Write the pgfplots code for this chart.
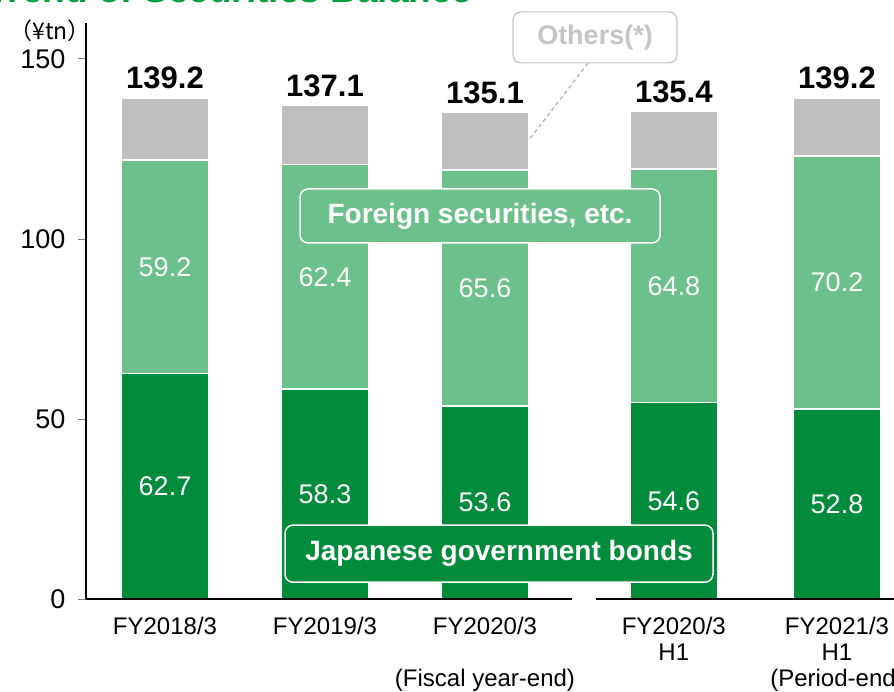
\documentclass[border=0pt]{standalone}
\usepackage{pgfplots}
\pgfplotsset{compat=1.18}
\usepackage{pgfplotstable}
\usepackage{fontspec}
\setmainfont{Liberation Sans}
\newfontfamily\cjk{Noto Sans CJK JP}
\definecolor{jgb}{HTML}{008C3A}
\definecolor{fgn}{HTML}{6CC089}
\definecolor{oth}{HTML}{BFBFBF}
\definecolor{othtext}{HTML}{C4C4C4}
\definecolor{titlegreen}{HTML}{00A040}
\pgfplotstableread{
x    jgb  fgn  oth  tot
0    62.7 59.2 17.3 139.2
1    58.3 62.4 16.4 137.1
2    53.6 65.6 15.9 135.1
3.18 54.6 64.8 16.0 135.4
4.2  52.8 70.2 16.2 139.2
}\data
\begin{document}
\begin{tikzpicture}
\node[anchor=base west, text=titlegreen, font=\bfseries\fontsize{37}{40}\selectfont, inner sep=0pt] at (-13pt,-3pt) {Trend of Securities Balance};
\node[font=\fontsize{23}{26}\selectfont, inner sep=0pt] at (50pt,-31pt) {\cjk{（}¥tn\cjk{）}};
\begin{axis}[
  at={(86pt,-599pt)}, anchor=south west,
  scale only axis, width=814pt, height=576pt,
  xmin=-0.49375, xmax=4.59375, ymin=0, ymax=160,
  ybar stacked, bar width=88pt,
  axis lines=left, axis line style={-, line width=1.2pt},
  x axis line style={draw=none},
  ytick={0,50,100,150},
  xtick={0,1,2,3.18,4.2},
  xticklabels={FY2018/3, FY2019/3, {FY2020/3\\\mbox{}\\(Fiscal year-end)}, {FY2020/3\\H1}, {FY2021/3\\H1\\(Period-end)}},
  xtick style={draw=none},
  ytick style={draw=gray, line width=1pt},
  tick align=outside, major tick length=8pt,
  yticklabel style={font=\fontsize{27}{30}\selectfont, xshift=-9pt},
  xticklabel style={align=center, font=\fontsize{24}{26}\selectfont, yshift=-7pt},
  /pgf/number format/assume math mode=true,
  clip=false,
]
\addplot[fill=jgb, draw=white, line width=1.5pt,
  point meta=explicit,
  nodes near coords={\pgfmathprintnumber[fixed,zerofill,precision=1]{\pgfplotspointmeta}},
  every node near coord/.style={anchor=center, text=white, font=\fontsize{27}{30}\selectfont}]
  table[x=x, y=jgb, meta=jgb] {\data};
\addplot[fill=fgn, draw=white, line width=1.5pt,
  point meta=explicit,
  nodes near coords={\pgfmathprintnumber[fixed,zerofill,precision=1]{\pgfplotspointmeta}},
  every node near coord/.style={anchor=center, text=white, font=\fontsize{27}{30}\selectfont}]
  table[x=x, y=fgn, meta=fgn] {\data};
\addplot[fill=oth, draw=white, line width=1.5pt,
  point meta=explicit,
  visualization depends on={\thisrow{oth} \as \rawy},
  nodes near coords={\pgfmathprintnumber[fixed,zerofill,precision=1]{\pgfplotspointmeta}},
  every node near coord/.style={anchor=base, text=black, font=\bfseries\fontsize{31}{34}\selectfont, yshift={\rawy*1.8pt+9pt}}]
  table[x=x, y=oth, meta=tot] {\data};
\coordinate (xa) at (axis cs:-0.49375,0);
\coordinate (xb) at (axis cs:2.544,0);
\coordinate (xc) at (axis cs:2.694,0);
\coordinate (xd) at (axis cs:4.59375,0);
\coordinate (fbox) at (axis cs:1.969,106.4);
\coordinate (jbox) at (axis cs:2.0875,12.6);
\coordinate (obox) at (axis cs:2.6875,156);
\coordinate (da) at (axis cs:2.644,148.9);
\coordinate (db) at (axis cs:2.275,127.5);
\end{axis}
\draw[line width=1.2pt] (xa) -- (xb);
\draw[line width=1.2pt] (xc) -- (xd);
\node[draw=white, line width=1.5pt, fill=fgn, rounded corners=8pt, minimum width=360pt, minimum height=54pt, text=white, font=\bfseries\fontsize{28}{32}\selectfont] at (fbox) {Foreign securities, etc.};
\node[draw=white, line width=1.5pt, fill=jgb, rounded corners=8pt, minimum width=428pt, minimum height=57pt, text=white, font=\bfseries\fontsize{28}{32}\selectfont] at (jbox) {Japanese government bonds};
\draw[gray!60, dash pattern=on 4pt off 3pt, line width=1.2pt] (da) -- (db);
\node[draw=othtext, line width=1.2pt, fill=white, rounded corners=8pt, minimum width=164pt, minimum height=51pt, text=othtext, font=\bfseries\fontsize{27}{30}\selectfont] at (obox) {Others(*)};
\pgfresetboundingbox
\useasboundingbox (0,0) rectangle (894pt,-692pt);
\end{tikzpicture}
\end{document}
